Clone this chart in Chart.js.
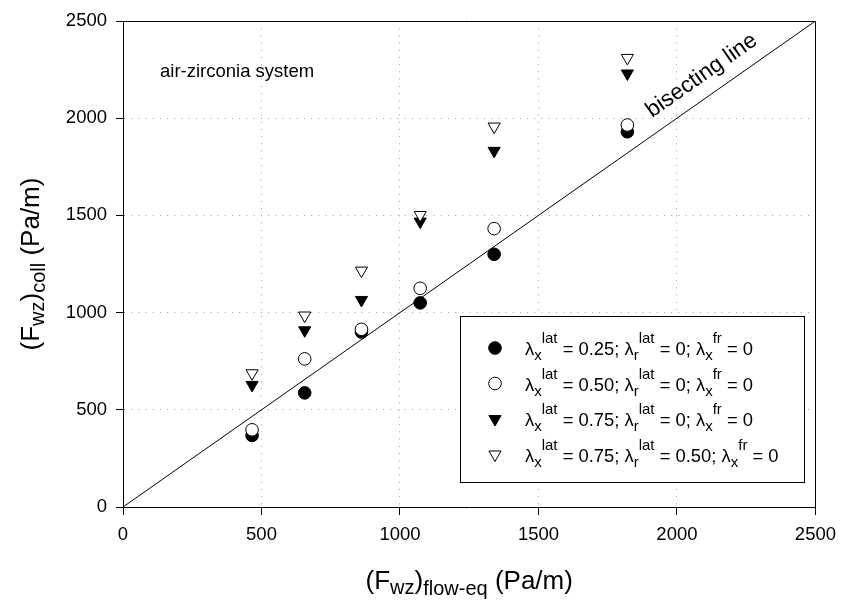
<!DOCTYPE html>
<html><head><meta charset="utf-8">
<script src="https://cdn.jsdelivr.net/npm/chart.js@4/dist/chart.umd.min.js"></script>
<style>html,body{margin:0;padding:0;background:#fff}#wrap{width:845px;height:601px}</style>
</head><body><div id="wrap"><canvas id="c" width="845" height="601"></canvas></div>
<script>
// ---- data ----
const xValues   = [466, 656, 861, 1073, 1340, 1821];
const seriesA   = [368, 587, 900, 1050, 1300, 1930];   // λx lat 0.25
const seriesB   = [397, 762, 914, 1125, 1432, 1965];   // λx lat 0.50
const seriesC   = [628, 909, 1065, 1468, 1832, 2230];  // λx lat 0.75
const seriesD   = [688, 985, 1216, 1502, 1957, 2310];  // λx lat 0.75, λr lat 0.50
const bisectX   = [0, 2500];
const bisectY   = [0, 2500];
const tickValues = [0, 500, 1000, 1500, 2000, 2500];
const latX = ['0.25', '0.50', '0.75', '0.75'];
const latR = ['0', '0', '0', '0.50'];
const frX  = ['0', '0', '0', '0'];
const noteText = 'air-zirconia system';
const lineText = 'bisecting line';

const FONT = '"Liberation Sans", Arial, sans-serif';
Chart.defaults.font.family = FONT;
Chart.defaults.color = '#000';

const pts = arr => arr.map((v, i) => ({x: xValues[i], y: v}));

const styles = [
  {pointStyle: 'circle', radius: 6.3, rotation: 0, backgroundColor: '#000'},
  {pointStyle: 'circle', radius: 6.3, rotation: 0, backgroundColor: '#fff'},
  {pointStyle: 'triangle', radius: 7, rotation: 180, backgroundColor: '#000'},
  {pointStyle: 'triangle', radius: 7, rotation: 180, backgroundColor: '#fff'}
];
const series = [seriesA, seriesB, seriesC, seriesD];

const datasets = series.map((s, i) => ({
  type: 'scatter',
  data: pts(s),
  pointStyle: styles[i].pointStyle,
  pointRadius: styles[i].radius,
  pointRotation: styles[i].rotation,
  pointBackgroundColor: styles[i].backgroundColor,
  pointBorderColor: '#000',
  pointBorderWidth: 1,
  order: 4 - i
}));
datasets.push({
  type: 'line',
  data: bisectX.map((v, i) => ({x: v, y: bisectY[i]})),
  borderColor: '#000', borderWidth: 1, pointRadius: 0, fill: false, order: 10
});

function drawRich(ctx, parts, x, y, align) {
  let w = 0;
  for (const p of parts) { ctx.font = p[1] + 'px ' + FONT; w += ctx.measureText(p[0]).width; }
  let cx = align === 'center' ? x - w / 2 : x;
  ctx.textAlign = 'left'; ctx.textBaseline = 'alphabetic';
  for (const p of parts) {
    ctx.font = p[1] + 'px ' + FONT;
    ctx.fillText(p[0], cx, y + p[2]);
    cx += ctx.measureText(p[0]).width;
  }
}

const annot = {
  id: 'annot',
  afterDraw(chart) {
    const {ctx, chartArea: a, scales: {x, y}} = chart;
    ctx.save();
    ctx.fillStyle = '#000';
    // frame top/right
    const xl = Math.round(x.getPixelForValue(0)), xr = Math.round(x.getPixelForValue(2500)) + 0.5;
    const yt = Math.round(y.getPixelForValue(2500)) + 0.5, yb = Math.round(y.getPixelForValue(0));
    ctx.strokeStyle = '#000'; ctx.lineWidth = 1;
    ctx.beginPath(); ctx.moveTo(xl, yt); ctx.lineTo(xr, yt); ctx.lineTo(xr, yb); ctx.stroke();

    // axis titles
    const cxm = (a.left + a.right) / 2, cym = (a.top + a.bottom) / 2;
    drawRich(ctx, [['(F', 26, 0], ['wz', 20, 5], [')', 26, 0], ['flow-eq', 20, 6], [' (Pa/m)', 26, 0]], cxm, 589, 'center');
    ctx.save();
    ctx.translate(39, cym); ctx.rotate(-Math.PI / 2);
    drawRich(ctx, [['(F', 26, 0], ['wz', 20, 5], [')', 26, 0], ['coll', 20, 6], [' (Pa/m)', 26, 0]], 0, 0, 'center');
    ctx.restore();

    // note
    ctx.font = '18.5px ' + FONT; ctx.textAlign = 'left'; ctx.textBaseline = 'alphabetic';
    ctx.fillText(noteText, 160, 77);

    // bisecting line label
    const ang = Math.atan2(y.getPixelForValue(2500) - y.getPixelForValue(0), x.getPixelForValue(2500) - x.getPixelForValue(0));
    ctx.save();
    ctx.translate(652, 118); ctx.rotate(ang);
    ctx.font = '22.5px ' + FONT;
    ctx.fillText(lineText, 0, 0);
    ctx.restore();

    // legend
    ctx.lineWidth = 1; ctx.strokeStyle = '#000';
    ctx.fillStyle = '#fff';
    ctx.fillRect(461, 317, 344, 166);
    ctx.strokeRect(460.5, 316.5, 344, 166);
    for (let i = 0; i < 4; i++) {
      const by = 355 + i * 35.5;
      ctx.fillStyle = styles[i].backgroundColor; ctx.strokeStyle = '#000'; ctx.lineWidth = 1;
      Chart.helpers.drawPoint(ctx, {pointStyle: styles[i].pointStyle, radius: styles[i].radius, rotation: styles[i].rotation, borderWidth: 1}, 495, by - 7);
      ctx.fillStyle = '#000';
      drawRich(ctx, [['λ', 18.4, 0], ['x', 15, 5], ['lat', 15, -12], [' = ' + latX[i] + '; λ', 18.4, 0], ['r', 15, 5], ['lat', 15, -12],
        [' = ' + latR[i] + '; λ', 18.4, 0], ['x', 15, 5], ['fr', 15, -12], [' = ' + frX[i], 18.4, 0]], 525, by, 'left');
    }
    ctx.restore();
  }
};

const axisCommon = {
  type: 'linear', min: 0, max: 2500,
  afterBuildTicks: s => { s.ticks = tickValues.map(v => ({value: v})); },
  grid: {
    color: c => (c.tick && (c.tick.value === 0 || c.tick.value === 2500)) ? 'rgba(0,0,0,0)' : '#a0a0a0',
    lineWidth: 1, drawTicks: true, tickColor: '#000', tickWidth: 1
  },
  border: {display: true, color: '#000', width: 1, dash: [1, 6.2]}
};

new Chart(document.getElementById('c'), {
  type: 'scatter',
  data: {datasets},
  options: {
    responsive: false, animation: false, devicePixelRatio: 1,
    layout: {padding: {top: 21, right: 25, bottom: 0, left: 0}},
    plugins: {legend: {display: false}, tooltip: {enabled: false}},
    scales: {
      x: Object.assign({}, axisCommon, {
        position: 'bottom',
        grid: Object.assign({}, axisCommon.grid, {tickLength: 8}),
        ticks: {font: {size: 18.5}, color: '#000', padding: 9, maxRotation: 0, callback: v => String(v)},
        afterFit: s => { s.height = 94; }
      }),
      y: Object.assign({}, axisCommon, {
        position: 'left',
        grid: Object.assign({}, axisCommon.grid, {tickLength: 7}),
        ticks: {font: {size: 18.5}, color: '#000', padding: 9, callback: v => String(v)},
        afterFit: s => { s.width = 123; }
      })
    }
  },
  plugins: [annot]
});
</script>
</body></html>
